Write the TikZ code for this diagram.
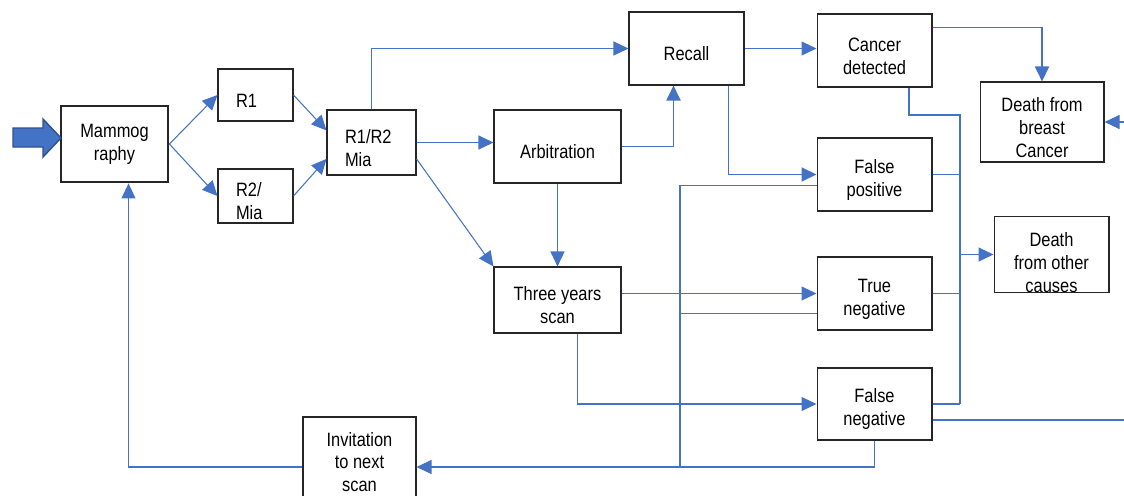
\documentclass[tikz,border=0pt]{standalone}
\usepackage{fontspec}
\setmainfont{Liberation Sans}[FakeStretch=0.85]
\usetikzlibrary{arrows.meta,calc}
\definecolor{lblue}{RGB}{68,114,196}
\definecolor{dblue}{RGB}{47,82,143}
\newcommand{\tstrut}{\rule{0pt}{0.49cm}}% pushes the text a bit down
\tikzset{
  blk/.style = {rectangle, draw=black!85, fill=white, line width=0.6pt,
    align=center, inner sep=0pt, font=\fontsize{11}{13}\selectfont,
    minimum width=2.3cm, minimum height=1.46cm},% plain box
  blk_m/.style = {blk, line width=1.6pt},% thick box, mammography
  blk_l/.style = {blk, align=left, inner xsep=0.36cm, minimum width=0pt,
    text width=#1},% box, text on the left
  lnk/.style = {draw=lblue, line width=0.6pt},% thin link
  lnk_b/.style = {draw=lblue, line width=1.1pt}% thick link
}
\begin{document}
\begin{tikzpicture}[x=0.02cm,y=-0.02cm,
  >={Triangle[length=0.3cm,width=0.28cm]}]
\useasboundingbox (0,0) rectangle (1124,495);
\clip (0,0) rectangle (1124,495);
% boxes
\node [blk_m, minimum width=2.14cm, minimum height=1.52cm] (mammo) at (114.5,144) {Mammog\\raphy};
\node [blk_l=0.78cm, minimum height=1.04cm] (r1) at (255.5,95) {\tstrut R1};
\node [blk_l=0.78cm, minimum height=1.08cm] (r2) at (255.5,196) {\tstrut R2/\\Mia};
\node [blk_l=1.06cm, minimum height=1.3cm] (mia) at (371.5,142.5) {\tstrut R1/R2\\Mia};
\node [blk, minimum width=2.54cm] (arb) at (557.5,146.5) {\tstrut Arbitration};
\node [blk] (recall) at (686.5,48.5) {\tstrut Recall};
\node [blk] (cancer) at (874.5,50.5) {\tstrut Cancer\\detected};
\node [blk, minimum width=2.48cm, minimum height=1.6cm] (dbc) at (1042,122) {\tstrut Death from\\breast\\Cancer};
\node [blk] (fp) at (874.5,174.5) {\tstrut False\\positive};
\node [blk, minimum height=1.5cm] (doc) at (1051.5,254.5) {\rule{0pt}{0.6cm}Death\\from other\\causes};
\node [blk] (tn) at (874.5,293.5) {\tstrut True\\negative};
\node [blk, minimum width=2.54cm, minimum height=1.32cm] (tys) at (557.5,300) {\tstrut Three years\\scan};
\node [blk, minimum height=1.44cm] (fn) at (874.5,404) {\tstrut False\\negative};
\node [blk, minimum width=2.26cm, minimum height=1.8cm] (inv) at (359.5,462) {Invitation\\to next\\scan};
% entry arrow
\filldraw [fill=lblue, draw=dblue, line width=0.8pt] (13,128) -- (43,128) -- (43,119)
  -- (61,138) -- (43,157) -- (43,147) -- (13,147) -- cycle;
% reading
\draw [lnk,->] (mammo.east) -- (r1.west);
\draw [lnk,->] (mammo.east) -- (r2.west);
\draw [lnk,->] (r1.east) -- (mia.165);
\draw [lnk,->] (r2.east) -- (mia.200);
\draw [lnk,->] (mia.north) |- (recall.west);
\draw [lnk,->] (mia.east) -- (mia.east -| arb.west);
\draw [lnk,->] (mia.340) -- (tys.north west);
\draw [lnk_b,->] (arb.east) -| ($(recall.south)+(-13,0)$);
\draw [lnk,->] (arb.south) -- (tys.north);
% outcomes
\draw [lnk,->] (recall.east) -- (recall.east -| cancer.west);
\draw [lnk_b,->] ($(recall.south east)+(-16,0)$) |- (fp.west);
\draw [lnk_b,->] ($(cancer.north east)+(0,14)$) -| (dbc.north);
\draw [lnk,->] (tn.west -| tys.east) -- (tn.west);
\draw [lnk,->] ($(tys.south)+(20,0)$) |- (fn.west);
% deaths
\coordinate (bus_t) at (960,115);
\coordinate (bus_b) at (960,404);
\draw [lnk_b] ($(cancer.south east)+(-24,0)$) |- (bus_t) -- (bus_b);
\draw [lnk_b] (fp.east) -- (fp.east -| bus_t);
\draw [lnk_b] (tn.east) -- (tn.east -| bus_t);
\draw [lnk_b] (fn.east) -- (bus_b);
\draw [lnk,->] (bus_t |- doc.west) -- (doc.west);
\coordinate (in_r) at (1124,122);
\coordinate (out_r) at (1124,420);
\draw [lnk,->] (in_r) -- (dbc.east);
\draw [lnk_b] (fn.east |- out_r) -- (out_r);
% back to screening
\coordinate (ret) at (680,467);
\draw [lnk_b] ($(fp.west)+(0,11)$) -| (ret);
\draw [lnk_b] ($(tn.west)+(0,20)$) -| (ret);
\draw [lnk_b] (fn.south) |- (ret);
\draw [lnk,->] (ret) -- (ret -| inv.east);
\draw [lnk,->] (ret -| inv.west) -| ($(mammo.south)+(14,0)$);
\end{tikzpicture}
\end{document}
